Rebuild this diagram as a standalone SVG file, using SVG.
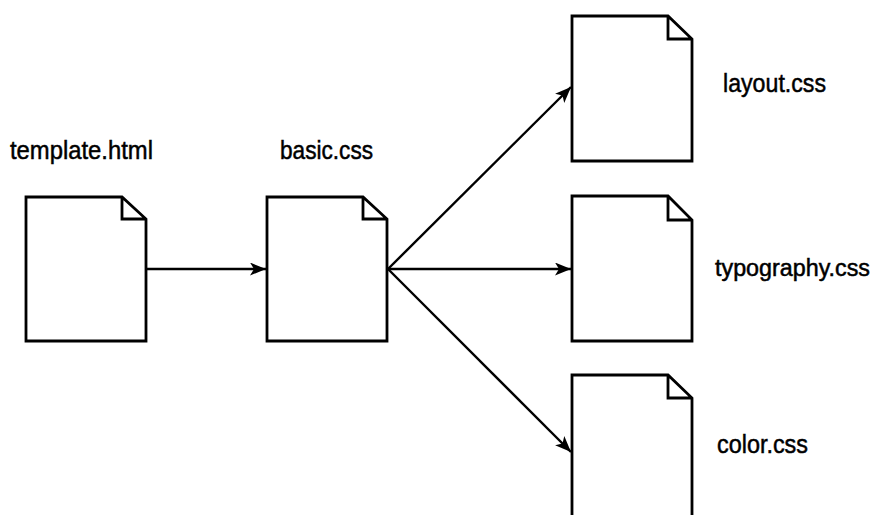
<svg xmlns="http://www.w3.org/2000/svg" width="875" height="515" viewBox="0 0 875 515">
<style>
.doc{fill:#fff;stroke:#000;stroke-width:2.8;stroke-linejoin:miter}
.lbl{font-family:"Liberation Sans Narrow","Liberation Sans","Arial",sans-serif;font-size:26px;fill:#000;stroke:#000;stroke-width:0.5}
.conn{stroke:#000;stroke-width:2.4;fill:none}
</style>
<defs>
<marker id="arr" markerWidth="18" markerHeight="14" refX="16" refY="6.5" orient="auto" markerUnits="userSpaceOnUse">
<path d="M0,0 L16,6.5 L0,13 L4,6.5 Z" fill="#000"/>
</marker>
</defs>
<rect width="875" height="515" fill="#fff"/>
<g id="template">
<path class="doc" d="M26,197 H122 L146,219 V341 H26 Z M122,197 V219 H146"/>
<text class="lbl" x="10" y="159" textLength="143" lengthAdjust="spacingAndGlyphs">template.html</text>
</g>
<g id="basic">
<path class="doc" d="M267,197 H363 L387,219 V341 H267 Z M363,197 V219 H387"/>
<text class="lbl" x="280" y="159" textLength="93" lengthAdjust="spacingAndGlyphs">basic.css</text>
</g>
<g id="layout">
<path class="doc" d="M572,16 H668 L692,39 V161 H572 Z M668,16 V39 H692"/>
<text class="lbl" x="723" y="92" textLength="103" lengthAdjust="spacingAndGlyphs">layout.css</text>
</g>
<g id="typography">
<path class="doc" d="M572,196 H668 L692,220 V341 H572 Z M668,196 V220 H692"/>
<text class="lbl" x="715" y="276" style="font-size:23px" textLength="155" lengthAdjust="spacingAndGlyphs">typography.css</text>
</g>
<g id="color">
<path class="doc" d="M572,375 H668 L692,398 V530 H572 Z M668,375 V398 H692"/>
<text class="lbl" x="717" y="453" textLength="91" lengthAdjust="spacingAndGlyphs">color.css</text>
</g>
<g id="connectors">
<line class="conn" x1="147" y1="269" x2="266" y2="269" marker-end="url(#arr)"/>
<line class="conn" x1="388" y1="269" x2="571" y2="87" marker-end="url(#arr)"/>
<line class="conn" x1="388" y1="269" x2="571" y2="269" marker-end="url(#arr)"/>
<line class="conn" x1="388" y1="269" x2="571" y2="452" marker-end="url(#arr)"/>
</g>
</svg>
